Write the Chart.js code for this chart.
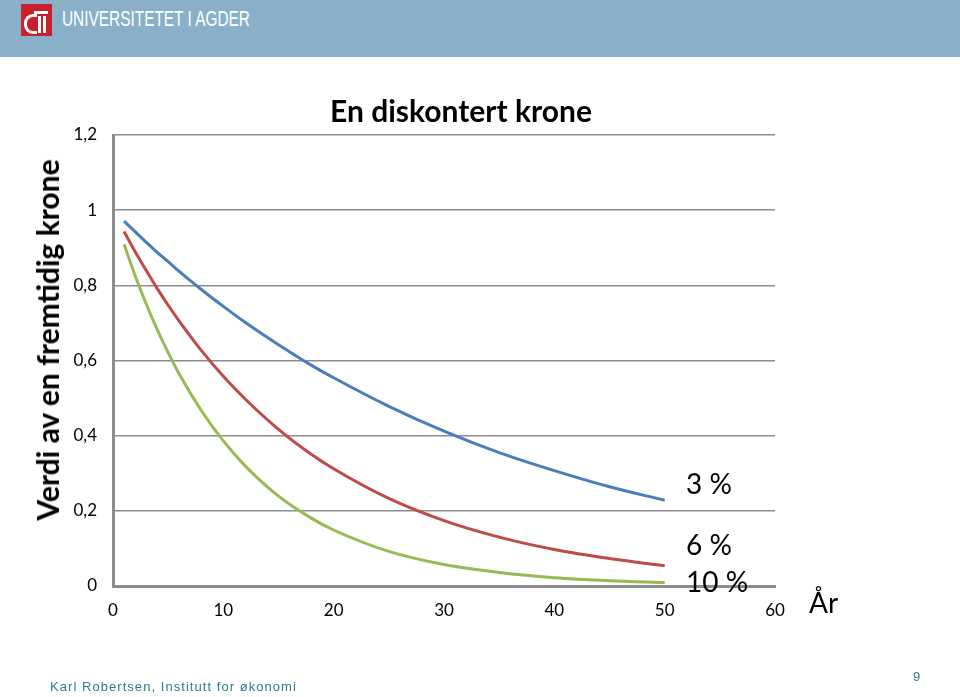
<!DOCTYPE html>
<html>
<head>
<meta charset="utf-8">
<script src="https://cdn.jsdelivr.net/npm/chart.js@4"></script>
<style>
  html, body { margin: 0; padding: 0; background: #fff; }
  body { width: 960px; height: 697px; position: relative; overflow: hidden; font-family: Lato, "Open Sans", sans-serif; }
  #header { position: absolute; left: 0; top: 0; width: 960px; height: 57px; background: #8aafc8; }
  #logo { position: absolute; left: 21px; top: 4px; width: 31px; height: 32px; background: #c8202f; }
  #logo .bar1 { position: absolute; left: 13px; top: 7px; width: 14px; height: 3px; background: #fff; }
  #logo .bar2 { position: absolute; left: 17px; top: 12px; width: 3px; height: 17px; background: #fff; }
  #logo .bar3 { position: absolute; left: 22px; top: 12px; width: 3px; height: 17px; background: #fff; }
  #logo .arc { position: absolute; left: 3px; top: 10px; width: 10px; height: 14px; border: 3px solid #fff; border-right: none; border-radius: 9px 0 0 9px; }
  #uni { position: absolute; left: 62px; top: 6px; color: #fff; font-family: "Liberation Sans", sans-serif; font-size: 22px; transform: scaleX(0.7); transform-origin: left top; white-space: nowrap; }
  #wrap { position: absolute; left: 0; top: 0; width: 960px; height: 697px; }
  .lbl { position: absolute; font-family: Lato, sans-serif; color: #000; white-space: nowrap; }
  #title { left: 0; width: 922px; top: 92px; text-align: center; font-size: 30px; font-weight: bold; }
  #ytitle { left: 47px; top: 340px; font-size: 30px; font-weight: bold; transform: translate(-50%, -50%) rotate(-90deg); }
  #footer { position: absolute; left: 50px; top: 679px; font-family: "Liberation Sans", Arial, sans-serif; font-size: 13px; letter-spacing: 1.05px; color: #2f7a8c; white-space: nowrap; }
  #page { position: absolute; left: 913px; top: 669px; font-family: "Liberation Sans", Arial, sans-serif; font-size: 13px; color: #2f7a8c; }
</style>
</head>
<body>
<div id="header">
  <div id="logo"><div class="bar1"></div><div class="bar2"></div><div class="bar3"></div><div class="arc"></div></div>
  <div id="uni">UNIVERSITETET I AGDER</div>
</div>
<div id="wrap"><canvas id="chart" width="960" height="697"></canvas></div>
<div class="lbl" id="title">En diskontert krone</div>
<div class="lbl" id="ytitle">Verdi av en fremtidig krone</div>
<div class="lbl" style="left:686px; top:466px; font-size:28px;">3 %</div>
<div class="lbl" style="left:686px; top:527px; font-size:28px;">6 %</div>
<div class="lbl" style="left:686px; top:564px; font-size:28px;">10 %</div>
<div class="lbl" style="left:809px; top:585px; font-size:28px;">År</div>
<div id="footer">Karl Robertsen, Institutt for økonomi</div>
<div id="page">9</div>
<script>
const years = [1, 2, 3, 4, 5, 6, 8, 10, 12, 15, 18, 20, 25, 30, 35, 40, 45, 50];
const rate3 = [0.971, 0.943, 0.915, 0.888, 0.863, 0.837, 0.789, 0.744, 0.701, 0.642, 0.587, 0.554, 0.478, 0.412, 0.355, 0.307, 0.264, 0.228];
const rate6 = [0.943, 0.890, 0.840, 0.792, 0.747, 0.705, 0.627, 0.558, 0.497, 0.417, 0.350, 0.312, 0.233, 0.174, 0.130, 0.097, 0.073, 0.054];
const rate10 = [0.909, 0.826, 0.751, 0.683, 0.621, 0.564, 0.467, 0.386, 0.319, 0.239, 0.180, 0.149, 0.092, 0.057, 0.036, 0.022, 0.014, 0.009];
const seriesNames = ["3 %", "6 %", "10 %"];
const xTicks = [0, 10, 20, 30, 40, 50, 60];
const yTicks = [0, 0.2, 0.4, 0.6, 0.8, 1, 1.2];

function pts(vals) {
  return years.map((y, i) => ({ x: y, y: vals[i] }));
}

const colors = ["#4a7ebb", "#be4b48", "#98b954"];
const datasets = [rate3, rate6, rate10].map((vals, i) => ({
  label: seriesNames[i],
  data: pts(vals),
  borderColor: colors[i],
  borderWidth: 3,
  pointRadius: 0,
  fill: false,
  cubicInterpolationMode: "monotone"
}));

new Chart(document.getElementById("chart"), {
  type: "line",
  data: { datasets },
  options: {
    responsive: false,
    animation: false,
    layout: { padding: { left: 0, top: 135, right: 185, bottom: 71 } },
    plugins: { legend: { display: false }, tooltip: { enabled: false } },
    scales: {
      x: {
        type: "linear",
        min: 0,
        max: 60,
        afterFit(scale) { scale.height = 40; },
        afterBuildTicks(scale) { scale.ticks = xTicks.map(v => ({ value: v })); },
        grid: { display: false, drawTicks: false },
        border: { display: true, color: "#8c8c8c", width: 3 },
        ticks: { color: "#000", padding: 14, maxRotation: 0, font: { family: "Lato", size: 17 } }
      },
      y: {
        min: 0,
        max: 1.2,
        afterFit(scale) { scale.width = 113; },
        afterBuildTicks(scale) { scale.ticks = yTicks.map(v => ({ value: v })); },
        grid: { color: "#8c8c8c", lineWidth: 1.5, drawTicks: false },
        border: { display: true, color: "#8c8c8c", width: 3 },
        ticks: {
          color: "#000",
          padding: 16,
          font: { family: "Lato", size: 17 },
          callback: v => String(Math.round(v * 10) / 10).replace(".", ",")
        }
      }
    }
  }
});
</script>
</body>
</html>
